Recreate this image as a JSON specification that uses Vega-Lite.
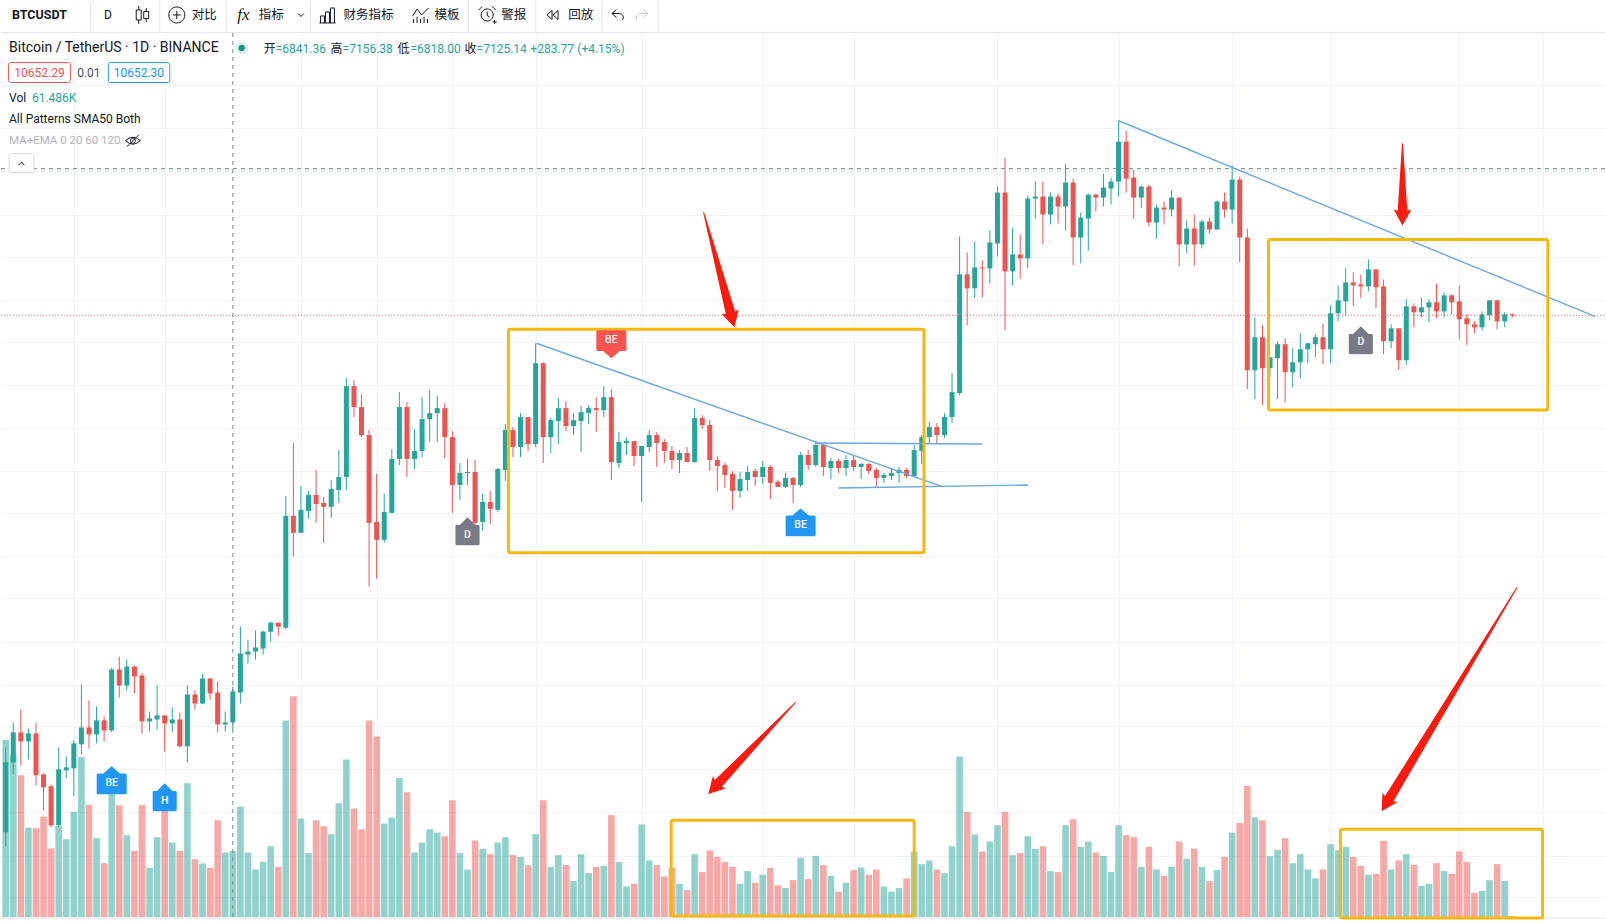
{"$schema":"https://vega.github.io/schema/vega-lite/v6.json","width":1606,"height":922,"padding":{"left":0,"right":0,"top":0,"bottom":0},"autosize":{"type":"fit","contains":"padding"},"background":"white","config":{"view":{"stroke":null},"font":"Roboto"},
"data":{"values":[
{"day":0,"open":5472,"high":6322,"low":5332,"close":6172,"vol":164.9,"dir":"up"},
{"day":1,"open":6172,"high":6572,"low":6052,"close":6472,"vol":151.6,"dir":"up"},
{"day":2,"open":6472,"high":6702,"low":6142,"close":6382,"vol":132.1,"dir":"down"},
{"day":3,"open":6382,"high":6512,"low":6202,"close":6462,"vol":83.4,"dir":"up"},
{"day":4,"open":6462,"high":6572,"low":5942,"close":6042,"vol":82.8,"dir":"down"},
{"day":5,"open":6052,"high":6062,"low":5692,"close":5922,"vol":93.6,"dir":"down"},
{"day":6,"open":5932,"high":5952,"low":5522,"close":5542,"vol":63.9,"dir":"down"},
{"day":7,"open":5542,"high":6322,"low":5522,"close":6102,"vol":84.9,"dir":"up"},
{"day":8,"open":6092,"high":6232,"low":6012,"close":6122,"vol":72.5,"dir":"up"},
{"day":9,"open":6112,"high":6392,"low":5832,"close":6362,"vol":98.0,"dir":"up"},
{"day":10,"open":6352,"high":6952,"low":6252,"close":6522,"vol":149.1,"dir":"up"},
{"day":11,"open":6522,"high":6792,"low":6312,"close":6452,"vol":104.5,"dir":"down"},
{"day":12,"open":6452,"high":6732,"low":6362,"close":6592,"vol":73.5,"dir":"up"},
{"day":13,"open":6592,"high":6632,"low":6382,"close":6492,"vol":50.2,"dir":"down"},
{"day":14,"open":6492,"high":7122,"low":6472,"close":7102,"vol":122.1,"dir":"up"},
{"day":15,"open":7102,"high":7232,"low":6822,"close":6942,"vol":104.2,"dir":"down"},
{"day":16,"open":6942,"high":7202,"low":6892,"close":7132,"vol":76.3,"dir":"up"},
{"day":17,"open":7132,"high":7142,"low":6862,"close":7032,"vol":61.7,"dir":"down"},
{"day":18,"open":7042,"high":7062,"low":6462,"close":6582,"vol":104.5,"dir":"down"},
{"day":19,"open":6582,"high":6682,"low":6482,"close":6612,"vol":45.9,"dir":"up"},
{"day":20,"open":6602,"high":6942,"low":6502,"close":6642,"vol":74.4,"dir":"up"},
{"day":21,"open":6642,"high":6642,"low":6282,"close":6562,"vol":100.4,"dir":"down"},
{"day":22,"open":6562,"high":6722,"low":6472,"close":6602,"vol":69.4,"dir":"up"},
{"day":23,"open":6602,"high":6672,"low":6322,"close":6332,"vol":61.7,"dir":"down"},
{"day":24,"open":6332,"high":6942,"low":6172,"close":6852,"vol":124.6,"dir":"up"},
{"day":25,"open":6852,"high":6892,"low":6702,"close":6762,"vol":53.9,"dir":"down"},
{"day":26,"open":6762,"high":7062,"low":6752,"close":7012,"vol":49.9,"dir":"up"},
{"day":27,"open":7012,"high":7022,"low":6802,"close":6862,"vol":45.9,"dir":"down"},
{"day":28,"open":6872,"high":6982,"low":6472,"close":6552,"vol":90.2,"dir":"down"},
{"day":29,"open":6552,"high":6682,"low":6482,"close":6572,"vol":60.1,"dir":"up"},
{"day":30,"open":6572,"high":6932,"low":6502,"close":6882,"vol":61.5,"dir":"up"},
{"day":31,"open":6872,"high":7532,"low":6762,"close":7262,"vol":102.9,"dir":"up"},
{"day":32,"open":7252,"high":7402,"low":7162,"close":7282,"vol":60.1,"dir":"up"},
{"day":33,"open":7282,"high":7492,"low":7202,"close":7322,"vol":44.3,"dir":"up"},
{"day":34,"open":7312,"high":7492,"low":7252,"close":7482,"vol":51.2,"dir":"up"},
{"day":35,"open":7482,"high":7582,"low":7382,"close":7572,"vol":66.0,"dir":"up"},
{"day":36,"open":7572,"high":7572,"low":7442,"close":7532,"vol":46.8,"dir":"down"},
{"day":37,"open":7522,"high":8842,"low":7502,"close":8642,"vol":183.2,"dir":"up"},
{"day":38,"open":8642,"high":9372,"low":8232,"close":8472,"vol":205.8,"dir":"down"},
{"day":39,"open":8472,"high":8942,"low":8472,"close":8702,"vol":91.8,"dir":"up"},
{"day":40,"open":8692,"high":8892,"low":8612,"close":8852,"vol":59.5,"dir":"up"},
{"day":41,"open":8852,"high":9102,"low":8572,"close":8762,"vol":90.2,"dir":"down"},
{"day":42,"open":8772,"high":8832,"low":8372,"close":8732,"vol":84.6,"dir":"down"},
{"day":43,"open":8732,"high":9002,"low":8622,"close":8912,"vol":77.2,"dir":"up"},
{"day":44,"open":8902,"high":9302,"low":8772,"close":9032,"vol":106.0,"dir":"up"},
{"day":45,"open":9032,"high":10022,"low":8902,"close":9942,"vol":146.9,"dir":"up"},
{"day":46,"open":9942,"high":10002,"low":9632,"close":9732,"vol":101.1,"dir":"down"},
{"day":47,"open":9732,"high":9862,"low":9432,"close":9452,"vol":81.8,"dir":"down"},
{"day":48,"open":9452,"high":9502,"low":7932,"close":8572,"vol":183.2,"dir":"down"},
{"day":49,"open":8582,"high":9062,"low":8012,"close":8402,"vol":168.3,"dir":"down"},
{"day":50,"open":8402,"high":8862,"low":8372,"close":8682,"vol":87.1,"dir":"up"},
{"day":51,"open":8672,"high":9312,"low":8672,"close":9212,"vol":92.7,"dir":"up"},
{"day":52,"open":9212,"high":9882,"low":9152,"close":9732,"vol":129.6,"dir":"up"},
{"day":53,"open":9732,"high":9782,"low":9032,"close":9212,"vol":116.3,"dir":"down"},
{"day":54,"open":9212,"high":9512,"low":9112,"close":9292,"vol":60.1,"dir":"up"},
{"day":55,"open":9292,"high":9832,"low":9232,"close":9612,"vol":69.4,"dir":"up"},
{"day":56,"open":9612,"high":9902,"low":9382,"close":9672,"vol":81.8,"dir":"up"},
{"day":57,"open":9672,"high":9842,"low":9382,"close":9722,"vol":78.7,"dir":"up"},
{"day":58,"open":9722,"high":9772,"low":9222,"close":9432,"vol":75.3,"dir":"down"},
{"day":59,"open":9432,"high":9492,"low":8672,"close":8952,"vol":108.8,"dir":"down"},
{"day":60,"open":8952,"high":9172,"low":8802,"close":9072,"vol":59.5,"dir":"up"},
{"day":61,"open":9072,"high":9212,"low":8952,"close":9082,"vol":44.3,"dir":"up"},
{"day":62,"open":9082,"high":9202,"low":8552,"close":8572,"vol":71.3,"dir":"down"},
{"day":63,"open":8582,"high":8862,"low":8492,"close":8782,"vol":63.6,"dir":"up"},
{"day":64,"open":8782,"high":8892,"low":8562,"close":8712,"vol":58.6,"dir":"down"},
{"day":65,"open":8702,"high":9122,"low":8682,"close":9112,"vol":69.4,"dir":"up"},
{"day":66,"open":9102,"high":9562,"low":8992,"close":9502,"vol":74.4,"dir":"up"},
{"day":67,"open":9502,"high":9532,"low":9232,"close":9332,"vol":57.7,"dir":"down"},
{"day":68,"open":9332,"high":9672,"low":9232,"close":9632,"vol":56.1,"dir":"up"},
{"day":69,"open":9632,"high":9632,"low":9292,"close":9362,"vol":48.4,"dir":"down"},
{"day":70,"open":9362,"high":10372,"low":9332,"close":10172,"vol":77.2,"dir":"up"},
{"day":71,"open":10172,"high":10182,"low":9172,"close":9432,"vol":108.8,"dir":"down"},
{"day":72,"open":9432,"high":9622,"low":9272,"close":9602,"vol":46.8,"dir":"up"},
{"day":73,"open":9592,"high":9822,"low":9362,"close":9722,"vol":57.7,"dir":"up"},
{"day":74,"open":9722,"high":9792,"low":9492,"close":9542,"vol":48.4,"dir":"down"},
{"day":75,"open":9542,"high":9672,"low":9452,"close":9602,"vol":33.5,"dir":"up"},
{"day":76,"open":9592,"high":9742,"low":9282,"close":9682,"vol":58.6,"dir":"up"},
{"day":77,"open":9672,"high":9752,"low":9562,"close":9722,"vol":40.9,"dir":"up"},
{"day":78,"open":9722,"high":9832,"low":9482,"close":9702,"vol":46.8,"dir":"down"},
{"day":79,"open":9702,"high":9942,"low":9632,"close":9832,"vol":47.7,"dir":"up"},
{"day":80,"open":9832,"high":9912,"low":9002,"close":9182,"vol":94.9,"dir":"down"},
{"day":81,"open":9172,"high":9482,"low":9122,"close":9382,"vol":51.2,"dir":"up"},
{"day":82,"open":9372,"high":9422,"low":9252,"close":9392,"vol":28.5,"dir":"up"},
{"day":83,"open":9392,"high":9392,"low":9142,"close":9242,"vol":31.0,"dir":"down"},
{"day":84,"open":9242,"high":9342,"low":8782,"close":9342,"vol":86.2,"dir":"up"},
{"day":85,"open":9332,"high":9502,"low":9282,"close":9452,"vol":52.7,"dir":"up"},
{"day":86,"open":9452,"high":9482,"low":9132,"close":9372,"vol":48.4,"dir":"down"},
{"day":87,"open":9382,"high":9412,"low":9172,"close":9292,"vol":37.8,"dir":"down"},
{"day":88,"open":9292,"high":9342,"low":9112,"close":9202,"vol":45.9,"dir":"down"},
{"day":89,"open":9202,"high":9302,"low":9072,"close":9272,"vol":31.0,"dir":"up"},
{"day":90,"open":9272,"high":9332,"low":9182,"close":9182,"vol":25.1,"dir":"down"},
{"day":91,"open":9182,"high":9722,"low":9172,"close":9622,"vol":58.6,"dir":"up"},
{"day":92,"open":9622,"high":9652,"low":9512,"close":9552,"vol":41.9,"dir":"down"},
{"day":93,"open":9552,"high":9602,"low":9092,"close":9202,"vol":62.0,"dir":"down"},
{"day":94,"open":9202,"high":9242,"low":8892,"close":9142,"vol":56.1,"dir":"down"},
{"day":95,"open":9152,"high":9172,"low":8922,"close":9052,"vol":51.2,"dir":"down"},
{"day":96,"open":9062,"high":9092,"low":8702,"close":8892,"vol":46.8,"dir":"down"},
{"day":97,"open":8892,"high":9082,"low":8822,"close":9012,"vol":31.0,"dir":"up"},
{"day":98,"open":9002,"high":9142,"low":8892,"close":9082,"vol":42.8,"dir":"up"},
{"day":99,"open":9092,"high":9112,"low":8942,"close":9032,"vol":31.9,"dir":"down"},
{"day":100,"open":9032,"high":9192,"low":8962,"close":9132,"vol":39.4,"dir":"up"},
{"day":101,"open":9132,"high":9152,"low":8812,"close":8972,"vol":45.9,"dir":"down"},
{"day":102,"open":8982,"high":9002,"low":8932,"close":8932,"vol":29.5,"dir":"down"},
{"day":103,"open":8932,"high":9072,"low":8922,"close":9022,"vol":27.0,"dir":"up"},
{"day":104,"open":9022,"high":9032,"low":8772,"close":8952,"vol":34.4,"dir":"down"},
{"day":105,"open":8952,"high":9282,"low":8932,"close":9252,"vol":55.2,"dir":"up"},
{"day":106,"open":9252,"high":9302,"low":9102,"close":9152,"vol":35.3,"dir":"down"},
{"day":107,"open":9152,"high":9382,"low":9132,"close":9352,"vol":57.0,"dir":"up"},
{"day":108,"open":9352,"high":9362,"low":9042,"close":9132,"vol":48.4,"dir":"down"},
{"day":109,"open":9122,"high":9222,"low":9012,"close":9192,"vol":38.4,"dir":"up"},
{"day":110,"open":9192,"high":9212,"low":9072,"close":9122,"vol":23.6,"dir":"down"},
{"day":111,"open":9122,"high":9252,"low":9042,"close":9202,"vol":31.9,"dir":"up"},
{"day":112,"open":9202,"high":9242,"low":9092,"close":9132,"vol":43.7,"dir":"down"},
{"day":113,"open":9132,"high":9172,"low":9012,"close":9162,"vol":46.2,"dir":"up"},
{"day":114,"open":9162,"high":9172,"low":9062,"close":9092,"vol":39.4,"dir":"down"},
{"day":115,"open":9102,"high":9122,"low":8932,"close":9022,"vol":44.3,"dir":"down"},
{"day":116,"open":9022,"high":9072,"low":8972,"close":9052,"vol":28.5,"dir":"up"},
{"day":117,"open":9042,"high":9122,"low":9002,"close":9072,"vol":23.6,"dir":"up"},
{"day":118,"open":9072,"high":9132,"low":8972,"close":9102,"vol":27.0,"dir":"up"},
{"day":119,"open":9102,"high":9122,"low":9022,"close":9042,"vol":36.0,"dir":"down"},
{"day":120,"open":9042,"high":9352,"low":9042,"close":9302,"vol":61.1,"dir":"up"},
{"day":121,"open":9292,"high":9452,"low":9162,"close":9432,"vol":49.3,"dir":"up"},
{"day":122,"open":9432,"high":9582,"low":9362,"close":9532,"vol":52.7,"dir":"up"},
{"day":123,"open":9532,"high":9572,"low":9362,"close":9452,"vol":44.3,"dir":"down"},
{"day":124,"open":9452,"high":9672,"low":9422,"close":9632,"vol":40.9,"dir":"up"},
{"day":125,"open":9632,"high":10072,"low":9572,"close":9882,"vol":66.0,"dir":"up"},
{"day":126,"open":9872,"high":11442,"low":9852,"close":11062,"vol":149.7,"dir":"up"},
{"day":127,"open":11062,"high":11282,"low":10552,"close":10922,"vol":98.0,"dir":"down"},
{"day":128,"open":10922,"high":11392,"low":10822,"close":11132,"vol":76.9,"dir":"up"},
{"day":129,"open":11132,"high":11202,"low":10832,"close":11122,"vol":61.1,"dir":"down"},
{"day":130,"open":11122,"high":11502,"low":10972,"close":11382,"vol":70.4,"dir":"up"},
{"day":131,"open":11372,"high":11942,"low":11242,"close":11882,"vol":85.6,"dir":"up"},
{"day":132,"open":11882,"high":12232,"low":10502,"close":11092,"vol":98.0,"dir":"down"},
{"day":133,"open":11092,"high":11532,"low":10952,"close":11262,"vol":57.7,"dir":"up"},
{"day":134,"open":11262,"high":11462,"low":11022,"close":11222,"vol":59.5,"dir":"down"},
{"day":135,"open":11222,"high":11852,"low":11122,"close":11822,"vol":75.3,"dir":"up"},
{"day":136,"open":11822,"high":11992,"low":11622,"close":11842,"vol":63.6,"dir":"up"},
{"day":137,"open":11842,"high":11992,"low":11362,"close":11662,"vol":66.0,"dir":"down"},
{"day":138,"open":11662,"high":11882,"low":11562,"close":11842,"vol":42.8,"dir":"up"},
{"day":139,"open":11842,"high":11872,"low":11572,"close":11742,"vol":41.9,"dir":"down"},
{"day":140,"open":11742,"high":12172,"low":11502,"close":11982,"vol":85.6,"dir":"up"},
{"day":141,"open":11982,"high":12022,"low":11152,"close":11432,"vol":91.1,"dir":"down"},
{"day":142,"open":11432,"high":11682,"low":11172,"close":11632,"vol":65.4,"dir":"up"},
{"day":143,"open":11622,"high":11872,"low":11302,"close":11862,"vol":70.4,"dir":"up"},
{"day":144,"open":11862,"high":11872,"low":11692,"close":11832,"vol":60.1,"dir":"down"},
{"day":145,"open":11832,"high":12072,"low":11742,"close":11932,"vol":57.0,"dir":"up"},
{"day":146,"open":11922,"high":12032,"low":11762,"close":11992,"vol":41.9,"dir":"up"},
{"day":147,"open":11992,"high":12602,"low":11842,"close":12392,"vol":85.6,"dir":"up"},
{"day":148,"open":12392,"high":12502,"low":11882,"close":12022,"vol":76.3,"dir":"down"},
{"day":149,"open":12032,"high":12112,"low":11622,"close":11832,"vol":74.4,"dir":"down"},
{"day":150,"open":11832,"high":11952,"low":11732,"close":11942,"vol":46.8,"dir":"up"},
{"day":151,"open":11942,"high":11962,"low":11542,"close":11582,"vol":65.4,"dir":"down"},
{"day":152,"open":11582,"high":11762,"low":11422,"close":11732,"vol":44.3,"dir":"up"},
{"day":153,"open":11732,"high":11792,"low":11562,"close":11712,"vol":38.4,"dir":"down"},
{"day":154,"open":11712,"high":11902,"low":11642,"close":11832,"vol":46.8,"dir":"up"},
{"day":155,"open":11832,"high":11832,"low":11142,"close":11362,"vol":70.4,"dir":"down"},
{"day":156,"open":11362,"high":11602,"low":11272,"close":11522,"vol":54.3,"dir":"up"},
{"day":157,"open":11522,"high":11662,"low":11152,"close":11362,"vol":63.6,"dir":"down"},
{"day":158,"open":11362,"high":11612,"low":11322,"close":11592,"vol":46.8,"dir":"up"},
{"day":159,"open":11592,"high":11632,"low":11472,"close":11512,"vol":33.5,"dir":"down"},
{"day":160,"open":11512,"high":11802,"low":11512,"close":11792,"vol":43.7,"dir":"up"},
{"day":161,"open":11792,"high":11882,"low":11632,"close":11712,"vol":56.1,"dir":"down"},
{"day":162,"open":11712,"high":12152,"low":11572,"close":12012,"vol":78.7,"dir":"up"},
{"day":163,"open":12012,"high":12042,"low":11182,"close":11432,"vol":87.7,"dir":"down"},
{"day":164,"open":11432,"high":11522,"low":9912,"close":10102,"vol":122.1,"dir":"down"},
{"day":165,"open":10102,"high":10632,"low":9812,"close":10432,"vol":93.0,"dir":"up"},
{"day":166,"open":10432,"high":10552,"low":9752,"close":10122,"vol":90.2,"dir":"down"},
{"day":167,"open":10122,"high":10232,"low":10032,"close":10232,"vol":56.7,"dir":"up"},
{"day":168,"open":10222,"high":10392,"low":9812,"close":10362,"vol":62.6,"dir":"up"},
{"day":169,"open":10362,"high":10422,"low":9782,"close":10082,"vol":73.5,"dir":"down"},
{"day":170,"open":10082,"high":10322,"low":9932,"close":10182,"vol":50.2,"dir":"up"},
{"day":171,"open":10182,"high":10472,"low":10022,"close":10312,"vol":58.6,"dir":"up"},
{"day":172,"open":10312,"high":10372,"low":10172,"close":10372,"vol":44.3,"dir":"up"},
{"day":173,"open":10362,"high":10462,"low":10232,"close":10432,"vol":36.0,"dir":"up"},
{"day":174,"open":10432,"high":10572,"low":10162,"close":10312,"vol":44.3,"dir":"down"},
{"day":175,"open":10312,"high":10752,"low":10172,"close":10672,"vol":67.9,"dir":"up"},
{"day":176,"open":10672,"high":10952,"low":10592,"close":10802,"vol":62.0,"dir":"up"},
{"day":177,"open":10792,"high":11122,"low":10652,"close":10982,"vol":65.4,"dir":"up"},
{"day":178,"open":10982,"high":11082,"low":10742,"close":10952,"vol":56.1,"dir":"down"},
{"day":179,"open":10962,"high":11062,"low":10822,"close":10942,"vol":47.7,"dir":"down"},
{"day":180,"open":10942,"high":11212,"low":10892,"close":11112,"vol":39.4,"dir":"up"},
{"day":181,"open":11112,"high":11112,"low":10722,"close":10932,"vol":40.3,"dir":"down"},
{"day":182,"open":10942,"high":11012,"low":10262,"close":10392,"vol":71.0,"dir":"down"},
{"day":183,"open":10392,"high":10562,"low":10322,"close":10522,"vol":44.3,"dir":"up"},
{"day":184,"open":10522,"high":10522,"low":10102,"close":10202,"vol":52.7,"dir":"down"},
{"day":185,"open":10202,"high":10812,"low":10152,"close":10742,"vol":58.6,"dir":"up"},
{"day":186,"open":10742,"high":10772,"low":10532,"close":10682,"vol":48.7,"dir":"down"},
{"day":187,"open":10682,"high":10832,"low":10632,"close":10732,"vol":29.1,"dir":"up"},
{"day":188,"open":10732,"high":10812,"low":10582,"close":10782,"vol":31.0,"dir":"up"},
{"day":189,"open":10782,"high":10972,"low":10622,"close":10692,"vol":50.2,"dir":"down"},
{"day":190,"open":10692,"high":10882,"low":10632,"close":10852,"vol":42.8,"dir":"up"},
{"day":191,"open":10852,"high":10862,"low":10662,"close":10782,"vol":40.3,"dir":"down"},
{"day":192,"open":10792,"high":10942,"low":10412,"close":10612,"vol":61.1,"dir":"down"},
{"day":193,"open":10622,"high":10662,"low":10352,"close":10562,"vol":51.2,"dir":"down"},
{"day":194,"open":10562,"high":10592,"low":10472,"close":10532,"vol":22.6,"dir":"down"},
{"day":195,"open":10532,"high":10692,"low":10502,"close":10662,"vol":24.2,"dir":"up"},
{"day":196,"open":10652,"high":10802,"low":10602,"close":10802,"vol":34.4,"dir":"up"},
{"day":197,"open":10802,"high":10802,"low":10512,"close":10592,"vol":49.3,"dir":"down"},
{"day":198,"open":10592,"high":10682,"low":10532,"close":10662,"vol":33.5,"dir":"up"},
{"day":199,"open":10662,"high":10672,"low":10632,"close":10652,"vol":0.9,"dir":"down"}
]},
"encoding":{"x":{"field":"day","type":"quantitative","title":null,"scale":{"domain":[-0.62,211.25],"nice":false,"zero":false,"padding":0},"axis":{"values":[9,21,39,49,59,70,84,100,112,131,147,162,175,192,203],"labels":false,"ticks":false,"domain":false,"title":null,"grid":true,"gridColor":"#f0f3fa"}}},
"resolve":{"scale":{"y":"independent"}},
"layer":[
{"mark":{"type":"bar","size":6.6,"orient":"vertical","opacity":0.5},"encoding":{"y":{"field":"vol","type":"quantitative","stack":null,"scale":{"domain":[-3.72,853.9],"nice":false,"zero":false},"axis":null},"color":{"field":"dir","type":"nominal","scale":{"domain":["up","down"],"range":["#26a69a","#ef5350"]},"legend":null}}},
{"layer":[
{"mark":{"type":"rule","strokeWidth":1},"encoding":{"y":{"field":"high","type":"quantitative","scale":{"domain":[4582,13802],"nice":false,"zero":false},"axis":{"values":[12962,12532,12102,11662,11232,10802,10382,9952,9522,9092,8672,8242,7822,7382,6952,6532,6102,5672,5232,4822],"labels":false,"ticks":false,"domain":false,"title":null,"grid":true,"gridColor":"#f0f3fa"}},"y2":{"field":"low"},"color":{"field":"dir","type":"nominal","legend":null}}},
{"mark":{"type":"bar","size":5,"orient":"vertical"},"encoding":{"y":{"field":"open","type":"quantitative"},"y2":{"field":"close"},"color":{"field":"dir","type":"nominal","legend":null}}},
{"data":{"values":[{"day":-0.62,"day2":211.25,"price":10652,"price2":10652}]},"mark":{"type":"rule","color":"#ef5350","strokeDash":[1,2],"strokeWidth":1,"opacity":0.8},"encoding":{"x2":{"field":"day2"},"y":{"field":"price","type":"quantitative"},"y2":{"field":"price2"}}},
{"data":{"values":[{"day":-0.62,"day2":211.25,"price":12122,"price2":12122},{"day":30,"day2":30,"price":13482,"price2":4582}]},"mark":{"type":"rule","color":"#758696","strokeDash":[4,4],"strokeWidth":1},"encoding":{"x2":{"field":"day2"},"y":{"field":"price","type":"quantitative"},"y2":{"field":"price2"}}},
{"data":{"values":[{"day":-0.62,"day2":211.25,"price":4612,"price2":4612}]},"mark":{"type":"rule","color":"#e0e3eb","strokeWidth":1},"encoding":{"x2":{"field":"day2"},"y":{"field":"price","type":"quantitative"},"y2":{"field":"price2"}}},
{"data":{"values":[{"day":70.1,"day2":123.8,"price":10372,"price2":8932},{"day":107,"day2":129,"price":9372,"price2":9362},{"day":110,"day2":135,"price":8922,"price2":8952},{"day":147,"day2":209.9,"price":12602,"price2":10642}]},"mark":{"type":"rule","color":"#6aa8e0","strokeWidth":1.4},"encoding":{"x2":{"field":"day2"},"y":{"field":"price","type":"quantitative"},"y2":{"field":"price2"}}},
{"data":{"values":[{"day":66.4,"day2":121.3,"price":10512,"price2":8272},{"day":166.8,"day2":203.7,"price":11412,"price2":9702},{"day":87.9,"day2":120,"price":5592,"price2":4632},{"day":176.3,"day2":203,"price":5502,"price2":4612}]},"mark":{"type":"rect","filled":false,"stroke":"#f5b80f","strokeWidth":3,"cornerRadius":2},"encoding":{"x2":{"field":"day2"},"y":{"field":"price","type":"quantitative"},"y2":{"field":"price2"}}},
{"data":{"values":[{"arrow":"a","seq":0,"day":92.2,"price":11682,"taper":0},{"arrow":"a","seq":1,"day":95.87,"price":10639,"taper":1},{"arrow":"b","seq":0,"day":184.5,"price":12372,"taper":0},{"arrow":"b","seq":1,"day":184.5,"price":11662,"taper":1},{"arrow":"c","seq":0,"day":104.3,"price":6772,"taper":0},{"arrow":"c","seq":1,"day":93.8,"price":5935,"taper":1},{"arrow":"d","seq":0,"day":199.6,"price":7922,"taper":0},{"arrow":"d","seq":1,"day":182.5,"price":5777,"taper":1}]},"mark":{"type":"trail","color":"#fb1a0e"},"encoding":{"y":{"field":"price","type":"quantitative"},"detail":{"field":"arrow"},"order":{"field":"seq"},"size":{"field":"taper","type":"quantitative","scale":{"domain":[0,1],"range":[1,10]},"legend":null}}},
{"data":{"values":[{"day":95.87,"price":10639,"heading":165},{"day":184.5,"price":11662,"heading":180},{"day":93.8,"price":5935,"heading":223.4},{"day":182.5,"price":5777,"heading":211.2}]},"mark":{"type":"point","filled":true,"opacity":1,"color":"#fb1a0e","size":484,"shape":"M0,-1 L.8,.45 L0,.2 L-.8,.45 Z"},"encoding":{"y":{"field":"price","type":"quantitative"},"angle":{"field":"heading","type":"quantitative","scale":{"domain":[0,360],"range":[0,360]},"legend":null}}},
{"data":{"values":[{"day":14,"price":5992},{"day":105,"price":8577}]},"mark":{"type":"point","filled":true,"opacity":1,"color":"#2196f3","size":900,"shape":"M0,-.93 L.55,-.45 L.9,-.45 Q1,-.45 1,-.35 L1,.85 Q1,.93 .9,.93 L-.9,.93 Q-1,.93 -1,.85 L-1,-.35 Q-1,-.45 -.9,-.45 L-.55,-.45 Z"},"encoding":{"y":{"field":"price","type":"quantitative"}}},
{"data":{"values":[{"day":21,"price":5822}]},"mark":{"type":"point","filled":true,"opacity":1,"color":"#2196f3","size":784,"shape":"M0,-1 L.55,-.45 L.8,-.45 Q.86,-.45 .86,-.38 L.86,.9 Q.86,1 .76,1 L-.76,1 Q-.86,1 -.86,.9 L-.86,-.38 Q-.86,-.45 -.8,-.45 L-.55,-.45 Z"},"encoding":{"y":{"field":"price","type":"quantitative"}}},
{"data":{"values":[{"day":61,"price":8487},{"day":179,"price":10402}]},"mark":{"type":"point","filled":true,"opacity":1,"color":"#787b86","size":784,"shape":"M0,-1 L.55,-.45 L.8,-.45 Q.86,-.45 .86,-.38 L.86,.9 Q.86,1 .76,1 L-.76,1 Q-.86,1 -.86,.9 L-.86,-.38 Q-.86,-.45 -.8,-.45 L-.55,-.45 Z"},"encoding":{"y":{"field":"price","type":"quantitative"}}},
{"data":{"values":[{"day":80,"price":10362}]},"mark":{"type":"point","filled":true,"opacity":1,"color":"#f9524f","size":900,"shape":"M0,.93 L.55,.45 L.9,.45 Q1,.45 1,.35 L1,-.85 Q1,-.93 .9,-.93 L-.9,-.93 Q-1,-.93 -1,-.85 L-1,.35 Q-1,.45 -.9,.45 L-.55,.45 Z"},"encoding":{"y":{"field":"price","type":"quantitative"}}},
{"data":{"values":[{"day":14,"price":5962,"label":"BE"},{"day":21,"price":5782,"label":"H"},{"day":105,"price":8552,"label":"BE"},{"day":61,"price":8452,"label":"D"},{"day":179,"price":10382,"label":"D"},{"day":80,"price":10402,"label":"BE"}]},"mark":{"type":"text","color":"#ffffff","fontSize":10.5,"fontWeight":500,"baseline":"middle"},"encoding":{"y":{"field":"price","type":"quantitative"},"text":{"field":"label"}}},
{"data":{"values":[{"day":-0.62,"day2":211.25,"price":13802,"price2":13487}]},"mark":{"type":"rect","color":"#ffffff"},"encoding":{"x2":{"field":"day2"},"y":{"field":"price","type":"quantitative"},"y2":{"field":"price2"}}},
{"data":{"values":[{"day":-0.62,"day2":211.25,"price":13487,"price2":13487},{"day":11.25,"day2":11.25,"price":13802,"price2":13487},{"day":20.36,"day2":20.36,"price":13802,"price2":13487},{"day":29.13,"day2":29.13,"price":13802,"price2":13487},{"day":40.28,"day2":40.28,"price":13802,"price2":13487},{"day":61.12,"day2":61.12,"price":13802,"price2":13487},{"day":70.03,"day2":70.03,"price":13802,"price2":13487},{"day":78.74,"day2":78.74,"price":13802,"price2":13487},{"day":86.19,"day2":86.19,"price":13802,"price2":13487}]},"mark":{"type":"rule","color":"#e0e3eb","strokeWidth":1},"encoding":{"x2":{"field":"day2"},"y":{"field":"price","type":"quantitative"},"y2":{"field":"price2"}}},
{"data":{"values":[{"box":"ask","day":0.36,"day2":8.54,"price":13185,"price2":12985},{"box":"bid","day":13.56,"day2":21.67,"price":13185,"price2":12985},{"box":"toggle","day":0.44,"day2":3.73,"price":12272,"price2":12082}]},"mark":{"type":"rect","fill":"#ffffff","strokeWidth":1,"cornerRadius":2},"encoding":{"x2":{"field":"day2"},"y":{"field":"price","type":"quantitative"},"y2":{"field":"price2"},"stroke":{"field":"box","type":"nominal","scale":{"domain":["ask","bid","toggle"],"range":["#ef5350","#2196f3","#d6d8e0"]},"legend":null}}},
{"data":{"values":[{"day":24.58,"price":13657,"label":"对比"},{"day":33.42,"price":13657,"label":"指标"},{"day":44.63,"price":13657,"label":"财务指标"},{"day":56.64,"price":13657,"label":"模板"},{"day":65.47,"price":13657,"label":"警报"},{"day":74.31,"price":13657,"label":"回放"}]},"mark":{"type":"text","font":"Noto Sans CJK SC","fontSize":12.5,"color":"#131722","align":"left","baseline":"middle"},"encoding":{"y":{"field":"price","type":"quantitative"},"text":{"field":"label"}}},
{"data":{"values":[{"day":0.83,"price":13657,"label":"BTCUSDT"}]},"mark":{"type":"text","fontSize":12.5,"fontWeight":"bold","color":"#131722","align":"left","baseline":"middle"},"encoding":{"y":{"field":"price","type":"quantitative"},"text":{"field":"label"}}},
{"data":{"values":[{"day":0.44,"price":13332,"label":"Bitcoin / TetherUS · 1D · BINANCE"}]},"mark":{"type":"text","fontSize":14,"color":"#131722","align":"left","baseline":"middle"},"encoding":{"y":{"field":"price","type":"quantitative"},"text":{"field":"label"}}},
{"data":{"values":[{"day":12.97,"price":13657,"label":"D"},{"day":0.44,"price":12832,"label":"Vol"},{"day":0.44,"price":12622,"label":"All Patterns SMA50 Both"}]},"mark":{"type":"text","fontSize":12,"color":"#131722","align":"left","baseline":"middle"},"encoding":{"y":{"field":"price","type":"quantitative"},"text":{"field":"label"}}},
{"data":{"values":[{"day":31.4,"price":13657,"label":"fx"}]},"mark":{"type":"text","font":"Liberation Serif","fontStyle":"italic","fontSize":17,"color":"#131722","baseline":"middle"},"encoding":{"y":{"field":"price","type":"quantitative"},"text":{"field":"label"}}},
{"data":{"values":[{"day":0.44,"price":12402,"label":"MA+EMA 0 20 60 120"}]},"mark":{"type":"text","fontSize":11.5,"color":"#b0b3bd","align":"left","baseline":"middle"},"encoding":{"y":{"field":"price","type":"quantitative"},"text":{"field":"label"}}},
{"data":{"values":[{"day":3.47,"price":12832,"label":"61.486K"},{"day":35.66,"price":13322,"label":"=6841.36"},{"day":44.5,"price":13322,"label":"=7156.38"},{"day":53.47,"price":13322,"label":"=6818.00"},{"day":62.2,"price":13322,"label":"=7125.14"},{"day":69.3,"price":13322,"label":"+283.77"},{"day":75.5,"price":13322,"label":"(+4.15%)"}]},"mark":{"type":"text","fontSize":12,"color":"#26a69a","align":"left","baseline":"middle"},"encoding":{"y":{"field":"price","type":"quantitative"},"text":{"field":"label"}}},
{"data":{"values":[{"day":34.08,"price":13322,"label":"开"},{"day":42.9,"price":13322,"label":"高"},{"day":51.75,"price":13322,"label":"低"},{"day":60.6,"price":13322,"label":"收"}]},"mark":{"type":"text","font":"Noto Sans CJK SC","fontSize":12,"color":"#131722","align":"left","baseline":"middle"},"encoding":{"y":{"field":"price","type":"quantitative"},"text":{"field":"label"}}},
{"data":{"values":[{"day":4.46,"price":13085,"label":"10652.29"}]},"mark":{"type":"text","fontSize":12,"color":"#ef5350","baseline":"middle"},"encoding":{"y":{"field":"price","type":"quantitative"},"text":{"field":"label"}}},
{"data":{"values":[{"day":17.59,"price":13085,"label":"10652.30"}]},"mark":{"type":"text","fontSize":12,"color":"#2196f3","baseline":"middle"},"encoding":{"y":{"field":"price","type":"quantitative"},"text":{"field":"label"}}},
{"data":{"values":[{"day":10.99,"price":13085,"label":"0.01"}]},"mark":{"type":"text","fontSize":12,"color":"#50535e","baseline":"middle"},"encoding":{"y":{"field":"price","type":"quantitative"},"text":{"field":"label"}}},
{"data":{"values":[{"day":31.17,"price":13332}]},"mark":{"type":"point","filled":true,"size":170,"color":"#26a69a","opacity":0.15},"encoding":{"y":{"field":"price","type":"quantitative"}}},
{"data":{"values":[{"day":31.17,"price":13332}]},"mark":{"type":"point","filled":true,"size":40,"color":"#089981","opacity":1},"encoding":{"y":{"field":"price","type":"quantitative"}}},
{"data":{"values":[{"day":18.1,"price":13662,"icon":"candles"},{"day":22.6,"price":13662,"icon":"compare"},{"day":39,"price":13662,"icon":"chevron"},{"day":42.5,"price":13662,"icon":"bars"},{"day":54.8,"price":13662,"icon":"template"},{"day":63.6,"price":13662,"icon":"alarm"},{"day":72.3,"price":13662,"icon":"rewind"},{"day":80.8,"price":13662,"icon":"undo"},{"day":16.8,"price":12402,"icon":"eye"},{"day":2.08,"price":12172,"icon":"caret"}]},"mark":{"type":"point","filled":false,"size":400,"color":"#131722","strokeWidth":1,"opacity":1},"encoding":{"y":{"field":"price","type":"quantitative"},"shape":{"field":"icon","type":"nominal","legend":null,"scale":{"domain":["candles","compare","chevron","bars","template","alarm","rewind","undo","eye","caret"],"range":["M-.4,-.9 L-.4,-.5 M-.65,-.5 L-.15,-.5 L-.15,.5 L-.65,.5 Z M-.4,.5 L-.4,.9 M.35,-.7 L.35,-.35 M.1,-.35 L.6,-.35 L.6,.35 L.1,.35 Z M.35,.35 L.35,.7","M-.8,0 A.8,.8 0 1,1 .8,0 A.8,.8 0 1,1 -.8,0 Z M-.4,0 L.4,0 M0,-.4 L0,.4","M-.3,-.15 L0,.15 L.3,-.15","M-.8,.8 L.8,.8 M-.7,.8 L-.7,.1 L-.3,.1 L-.3,.8 M-.2,.8 L-.2,-.3 L.2,-.3 L.2,.8 M.3,.8 L.3,-.7 L.7,-.7 L.7,.8","M-.8,.1 L-.35,-.6 L.1,0 L.8,-.7 M-.7,.8 L-.7,.4 M-.35,.8 L-.35,.2 M0,.8 L0,.4 M.35,.8 L.35,.2 M.7,.8 L.7,.4","M-.6,0 A.6,.6 0 1,1 .6,0 A.6,.6 0 1,1 -.6,0 Z M0,-.35 L0,.05 L.25,.2 M-.85,-.5 L-.5,-.85 M.85,-.5 L.5,-.85 M.55,.7 L.95,.7 M.75,.5 L.75,.9","M-.1,-.45 L-.6,0 L-.1,.45 Z M.5,-.45 L0,0 L.5,.45 Z","M-.1,-.55 L-.55,-.15 L-.1,.25 M-.55,-.15 L.2,-.15 A.4,.4 0 0,1 .5,.5","M-.75,0 Q0,-.7 .75,0 Q0,.7 -.75,0 Z M-.25,0 A.25,.25 0 1,1 .25,0 A.25,.25 0 1,1 -.25,0 Z M-.6,.6 L.6,-.6","M-.3,.15 L0,-.15 L.3,.15"]}}}},
{"data":{"values":[{"day":84.1,"price":13662}]},"mark":{"type":"point","filled":false,"size":400,"color":"#c8cad2","strokeWidth":1,"opacity":1,"shape":"M.1,-.55 L.55,-.15 L.1,.25 M.55,-.15 L-.2,-.15 A.4,.4 0 0,0 -.5,.5"},"encoding":{"y":{"field":"price","type":"quantitative"}}}
]}
]}
